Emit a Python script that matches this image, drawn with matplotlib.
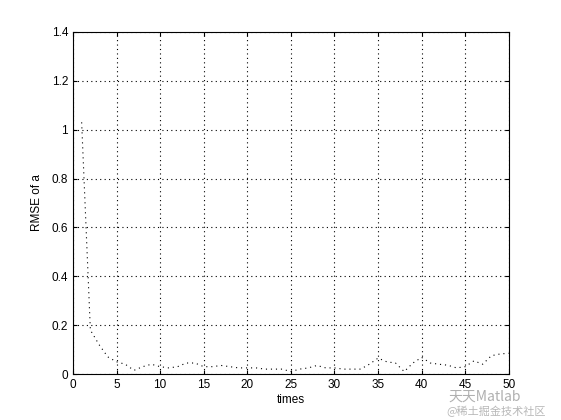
import matplotlib as mpl
import matplotlib.pyplot as plt

# ── Data ──────────────────────────────────────────────────────────────────────
times = list(range(1, 51))
rmse_a = [1.03, 0.18, 0.12, 0.07, 0.05, 0.04, 0.015, 0.03, 0.04, 0.03,
          0.025, 0.03, 0.045, 0.045, 0.03, 0.03, 0.035, 0.03, 0.025, 0.025,
          0.025, 0.02, 0.02, 0.02, 0.01, 0.02, 0.025, 0.035, 0.025, 0.025,
          0.02, 0.02, 0.02, 0.04, 0.065, 0.05, 0.045, 0.01, 0.045, 0.068,
          0.045, 0.04, 0.036, 0.025, 0.03, 0.054, 0.04, 0.075, 0.082, 0.085]
xticks = list(range(0, 51, 5))
yticks = [0, 0.2, 0.4, 0.6, 0.8, 1, 1.2, 1.4]

# ── Style ─────────────────────────────────────────────────────────────────────
mpl.rcParams.update({
    'font.family': ['Liberation Sans', 'DejaVu Sans'],
    'font.size': 8.5,
    'xtick.direction': 'in',
    'ytick.direction': 'in',
    'xtick.top': True,
    'ytick.right': True,
    'xtick.major.size': 3,
    'ytick.major.size': 3,
})

fig = plt.figure(figsize=(5.61, 4.2), dpi=100, facecolor='white')
ax = fig.add_axes([0.130, 0.1095, 0.777, 0.8145])

ax.plot(times, rmse_a, color='black', lw=0.8, dashes=(1, 3.5))

ax.set_xlim(0, 50)
ax.set_ylim(0, 1.4)
ax.set_xticks(xticks)
ax.set_yticks(yticks)
ax.set_yticklabels(['0', '0.2', '0.4', '0.6', '0.8', '1', '1.2', '1.4'])
ax.grid(True, color='black', lw=0.8, dashes=(1, 3))
for spine in ax.spines.values():
    spine.set_color('black')
    spine.set_linewidth(0.8)

ax.set_xlabel('times', labelpad=2)
ax.set_ylabel('RMSE of a', labelpad=6)

# watermark
cjk = ['Noto Sans CJK SC', 'DejaVu Sans']
fig.text(0.80, 0.045, '天天Matlab', family=cjk, fontsize=10, color='#b0b0b0')
fig.text(0.795, 0.012, '@稀土掘金技术社区', family=cjk, fontsize=8, color='#b8b8b8')

fig.savefig('out.png', dpi=100, facecolor='white')
